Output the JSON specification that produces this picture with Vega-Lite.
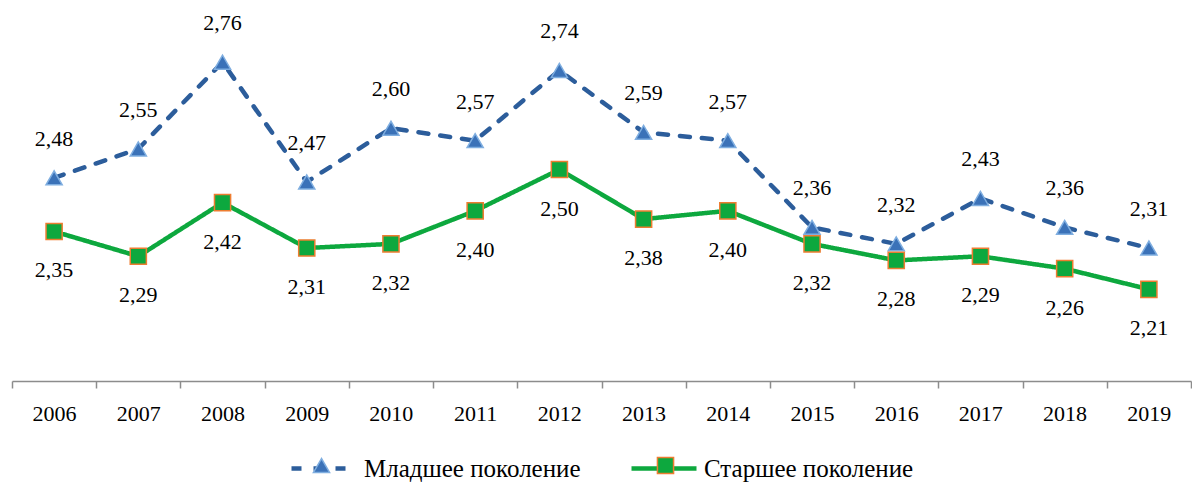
{
  "$schema": "https://vega.github.io/schema/vega-lite/v6.json",
  "width": 1179,
  "height": 375,
  "autosize": "none",
  "padding": {"left": 12, "top": 6, "right": 1, "bottom": 101},
  "background": "white",
  "config": {
    "view": {"stroke": null},
    "font": "Liberation Serif",
    "locale": {"number": {"decimal": ",", "thousands": " ", "grouping": [3], "currency": ["", ""]}}
  },
  "data": {
    "values": [
      {"year": 2006, "series": "Младшее поколение", "value": 2.48},
      {"year": 2007, "series": "Младшее поколение", "value": 2.55},
      {"year": 2008, "series": "Младшее поколение", "value": 2.76},
      {"year": 2009, "series": "Младшее поколение", "value": 2.47},
      {"year": 2010, "series": "Младшее поколение", "value": 2.60},
      {"year": 2011, "series": "Младшее поколение", "value": 2.57},
      {"year": 2012, "series": "Младшее поколение", "value": 2.74},
      {"year": 2013, "series": "Младшее поколение", "value": 2.59},
      {"year": 2014, "series": "Младшее поколение", "value": 2.57},
      {"year": 2015, "series": "Младшее поколение", "value": 2.36},
      {"year": 2016, "series": "Младшее поколение", "value": 2.32},
      {"year": 2017, "series": "Младшее поколение", "value": 2.43},
      {"year": 2018, "series": "Младшее поколение", "value": 2.36},
      {"year": 2019, "series": "Младшее поколение", "value": 2.31},
      {"year": 2006, "series": "Старшее поколение", "value": 2.35},
      {"year": 2007, "series": "Старшее поколение", "value": 2.29},
      {"year": 2008, "series": "Старшее поколение", "value": 2.42},
      {"year": 2009, "series": "Старшее поколение", "value": 2.31},
      {"year": 2010, "series": "Старшее поколение", "value": 2.32},
      {"year": 2011, "series": "Старшее поколение", "value": 2.40},
      {"year": 2012, "series": "Старшее поколение", "value": 2.50},
      {"year": 2013, "series": "Старшее поколение", "value": 2.38},
      {"year": 2014, "series": "Старшее поколение", "value": 2.40},
      {"year": 2015, "series": "Старшее поколение", "value": 2.32},
      {"year": 2016, "series": "Старшее поколение", "value": 2.28},
      {"year": 2017, "series": "Старшее поколение", "value": 2.29},
      {"year": 2018, "series": "Старшее поколение", "value": 2.26},
      {"year": 2019, "series": "Старшее поколение", "value": 2.21}
    ]
  },
  "encoding": {
    "x": {
      "field": "year",
      "type": "quantitative",
      "scale": {"domain": [2005.5, 2019.5], "nice": false, "zero": false},
      "axis": {
        "title": null,
        "grid": false,
        "values": [2005.5, 2006.5, 2007.5, 2008.5, 2009.5, 2010.5, 2011.5, 2012.5, 2013.5, 2014.5, 2015.5, 2016.5, 2017.5, 2018.5, 2019.5],
        "labelExpr": "datum.value < 2019 ? '' + (datum.value + 0.5) : ''",
        "labelOffset": 42,
        "labelFlush": false,
        "labelOverlap": false,
        "labelBound": false,
        "labelFont": "Liberation Serif",
        "labelFontSize": 22,
        "labelColor": "#000000",
        "labelPadding": 15,
        "tickSize": 7,
        "tickColor": "#8c8c8c",
        "tickWidth": 1.5,
        "domainColor": "#8c8c8c",
        "domainWidth": 1.5
      }
    },
    "y": {
      "field": "value",
      "type": "quantitative",
      "scale": {"domain": [1.988, 2.896], "nice": false, "zero": false},
      "axis": null
    }
  },
  "layer": [
    {
      "mark": {"type": "line", "strokeWidth": 4.5, "strokeCap": "round"},
      "encoding": {
        "color": {
          "field": "series",
          "type": "nominal",
          "scale": {"domain": ["Младшее поколение", "Старшее поколение"], "range": ["#2C5D9B", "#0DA83E"]},
          "legend": {
            "title": null, "orient": "none", "legendX": 277, "legendY": 427.5, "direction": "horizontal",
            "symbolType": "stroke", "symbolSize": 4225, "symbolStrokeWidth": 4.5,
            "labelOffset": 5, "columnPadding": 41, "padding": 0, "labelLimit": 0,
            "labelFont": "Liberation Serif", "labelFontSize": 25, "labelColor": "#000000"
          }
        },
        "strokeDash": {
          "field": "series",
          "type": "nominal",
          "scale": {"domain": ["Младшее поколение", "Старшее поколение"], "range": [[10, 12], [1, 0]]},
          "legend": {
            "title": null, "orient": "none", "legendX": 277, "legendY": 427.5, "direction": "horizontal",
            "symbolType": "stroke", "symbolSize": 4225, "symbolStrokeWidth": 4.5,
            "labelOffset": 5, "columnPadding": 41, "padding": 0, "labelLimit": 0,
            "labelFont": "Liberation Serif", "labelFontSize": 25, "labelColor": "#000000"
          }
        }
      }
    },
    {
      "mark": {"type": "point", "filled": true, "size": 260, "strokeWidth": 1.5, "opacity": 1},
      "encoding": {
        "shape": {
          "field": "series",
          "type": "nominal",
          "scale": {"range": ["triangle-up", "square"]},
          "legend": {
            "title": null, "orient": "none", "legendX": 298.5, "legendY": 448, "direction": "horizontal",
            "symbolSize": 260, "symbolStrokeWidth": 1.5, "zindex": 2,
            "labelExpr": "''", "labelOffset": 0, "columnPadding": 320, "padding": 0, "labelFontSize": 22
          }
        },
        "fill": {
          "field": "series",
          "type": "nominal",
          "scale": {"range": ["#3B72B8", "#0DA83E"]},
          "legend": {
            "title": null, "orient": "none", "legendX": 298.5, "legendY": 448, "direction": "horizontal",
            "symbolSize": 260, "symbolStrokeWidth": 1.5, "zindex": 2,
            "labelExpr": "''", "labelOffset": 0, "columnPadding": 320, "padding": 0, "labelFontSize": 22
          }
        },
        "stroke": {
          "field": "series",
          "type": "nominal",
          "scale": {"range": ["#7FAEE0", "#ED7D31"]},
          "legend": {
            "title": null, "orient": "none", "legendX": 298.5, "legendY": 448, "direction": "horizontal",
            "symbolSize": 260, "symbolStrokeWidth": 1.5, "zindex": 2,
            "labelExpr": "''", "labelOffset": 0, "columnPadding": 320, "padding": 0, "labelFontSize": 22
          }
        }
      }
    },
    {
      "transform": [{"filter": "datum.series == 'Младшее поколение'"}],
      "mark": {"type": "text", "dy": -39, "font": "Liberation Serif", "fontSize": 22, "color": "#000000"},
      "encoding": {"text": {"field": "value", "type": "quantitative", "format": ".2f"}}
    },
    {
      "transform": [{"filter": "datum.series == 'Старшее поколение'"}],
      "mark": {"type": "text", "dy": 39, "font": "Liberation Serif", "fontSize": 22, "color": "#000000"},
      "encoding": {"text": {"field": "value", "type": "quantitative", "format": ".2f"}}
    }
  ]
}
